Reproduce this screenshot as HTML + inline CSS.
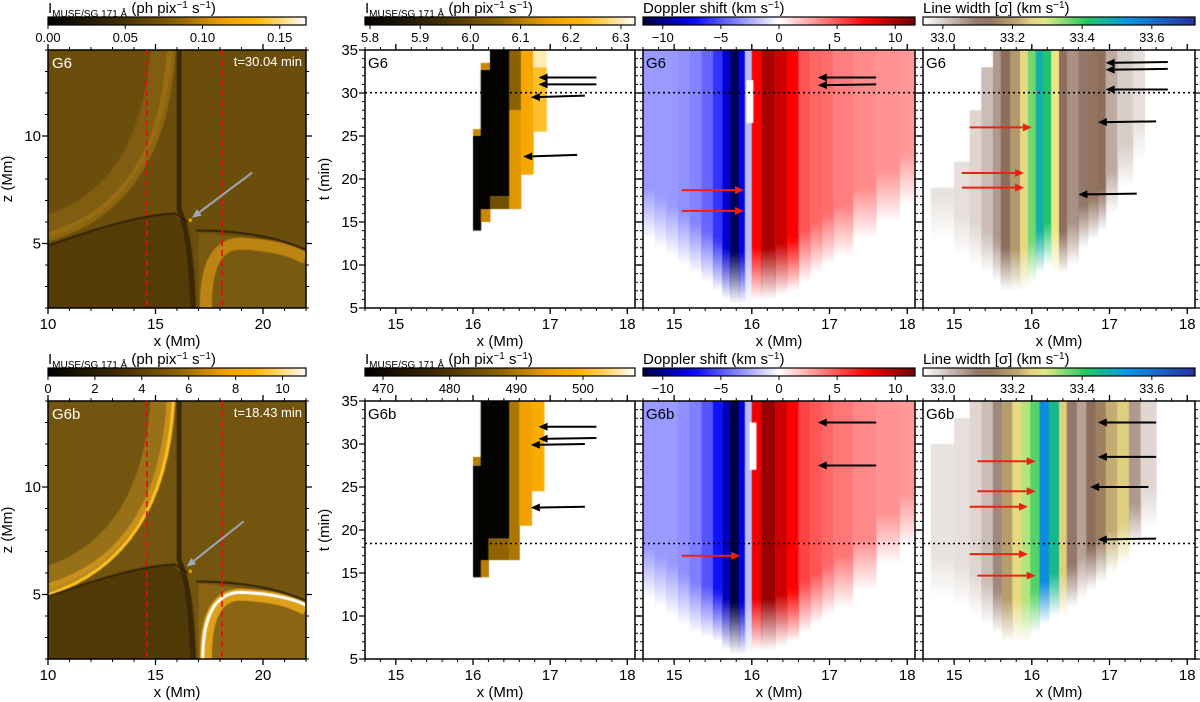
<!DOCTYPE html>
<html><head><meta charset="utf-8">
<style>
html,body{margin:0;padding:0;background:#fff;}
#root{position:relative;width:1200px;height:702px;overflow:hidden;font-family:"Liberation Sans","DejaVu Sans",sans-serif;}
canvas{position:absolute;}
svg{position:absolute;left:0;top:0;}
</style></head>
<body>
<div id="root">
<svg id="ov" width="1200" height="702"></svg>
</div>
<script>
// ---------- data ----------
// Intensity columns: [xStart, xEnd, tStart, tEnd, value]
const intTop = [
 [16.0,16.1,14,25.0,5.80],[16.0,16.1,25.0,25.8,6.12],
 [16.1,16.22,15,16.5,6.12],[16.1,16.22,16.5,32.7,5.80],[16.1,16.22,32.7,33.5,6.12],
 [16.22,16.47,16.5,18,6.02],[16.22,16.47,18,35,5.80],
 [16.47,16.62,16.5,28,6.14],[16.47,16.62,28,35,6.06],
 [16.62,16.78,20.5,35,6.18],
 [16.78,16.95,25.5,33,6.24],[16.78,16.95,33,35,6.30]
];
const intBot = [
 [16.0,16.1,14.5,27.5,468],[16.0,16.1,27.5,28.5,491],
 [16.1,16.2,14.5,16.5,491],[16.1,16.2,16.5,35,468],
 [16.2,16.47,16.5,19,488],[16.2,16.47,19,35,468],
 [16.47,16.6,16.5,35,490],
 [16.6,16.76,20.5,35,495],
 [16.76,16.92,24.5,35,498]
];
// Doppler columns: [xStart, xEnd, value, tStart]
const dopTop = [
 [14.6,14.75,-3,13],[14.75,14.9,-3,12],[14.9,15.05,-3,11],[15.05,15.2,-3.2,10],
 [15.2,15.35,-3.6,9],[15.35,15.5,-4.5,8],[15.5,15.62,-6,7],[15.62,15.72,-8.5,6],
 [15.72,15.84,-11,5.5],[15.84,15.91,-8,5.5],[15.91,16.0,-2,5.5],
 [16.0,16.12,7.5,6],[16.12,16.3,10,6],[16.3,16.45,9,6.5],[16.45,16.6,7.5,7],
 [16.6,16.75,5,8],[16.75,16.9,4.5,9],[16.9,17.05,4.3,10],[17.05,17.3,3.8,11],
 [17.3,17.6,3.4,13],[17.6,17.9,3.2,15],[17.9,18.1,3,17]
];
const dopBot = [
 [14.6,14.75,-3,12],[14.75,14.9,-3,11],[14.9,15.05,-3,10],[15.05,15.2,-3.3,9],
 [15.2,15.35,-3.8,8],[15.35,15.5,-5,7.5],[15.5,15.62,-7,7],[15.62,15.72,-9,6],
 [15.72,15.84,-11.5,5.5],[15.84,15.91,-8,5.5],[15.91,16.0,-2,5.5],
 [16.0,16.12,8,6],[16.12,16.3,10.5,6],[16.3,16.45,9,6.5],[16.45,16.6,7.5,7],
 [16.6,16.75,5.5,8],[16.75,16.9,5,9],[16.9,17.05,4.5,10],[17.05,17.3,4,11],
 [17.3,17.6,3.5,13],[17.6,17.9,3.2,16],[17.9,18.1,3,18]
];
// Doppler white patches: [xStart, xEnd, tStart, tEnd, value]
const dopPatchTop = [[15.93,16.02,26.5,31.5,0]];
const dopPatchBot = [[15.97,16.06,27,32.5,0]];
// Line width columns: [xStart, xEnd, value, tStart, tEnd]
const lwTop = [
 [14.7,15.0,32.975,13,19],[15.0,15.2,32.98,11,22],[15.2,15.35,32.99,10,28],
 [15.35,15.5,33.02,9,33],[15.5,15.6,33.06,8,35],[15.6,15.72,33.12,7,35],
 [15.72,15.85,33.19,7,35],[15.85,15.95,33.26,7,35],[15.95,16.05,33.36,8,35],
 [16.05,16.15,33.47,9,35],[16.15,16.25,33.42,10,35],[16.25,16.35,33.27,9,35],
 [16.35,16.45,33.12,9,35],[16.45,16.6,33.07,10,35],[16.6,16.72,33.1,12,35],
 [16.72,16.85,33.13,13,35],[16.85,16.95,33.12,14,35],[16.95,17.1,33.04,16,35],
 [17.1,17.3,33.0,19,35],[17.3,17.45,32.98,22,35]
];
const lwBot = [
 [14.7,15.0,32.975,12,30],[15.0,15.2,32.98,11,33],[15.2,15.35,32.99,10,35],
 [15.35,15.5,33.02,9,35],[15.5,15.62,33.08,8,35],[15.62,15.75,33.2,7,35],
 [15.75,15.87,33.26,7,35],[15.87,15.98,33.32,7,35],[15.98,16.1,33.38,8,35],
 [16.1,16.22,33.55,9,35],[16.22,16.35,33.45,10,35],[16.35,16.45,33.25,10,35],
 [16.45,16.58,33.1,11,35],[16.58,16.7,33.05,12,35],[16.7,16.82,33.12,13,35],
 [16.82,16.95,33.15,14,35],[16.95,17.1,33.22,15,35],[17.1,17.25,33.25,16,35],
 [17.25,17.4,33.06,18,35],[17.4,17.6,32.99,20,35]
];
// Arrows: [x1,t1,x2,t2]
const arrP2Top = [[17.6,31.8,16.85,31.8],[17.6,31.0,16.85,31.0],[17.45,29.7,16.75,29.5],[17.35,22.8,16.65,22.6]];
const arrP3TopBlack = [[17.6,31.8,16.85,31.8],[17.6,31.0,16.85,30.9]];
const arrP3TopRed = [[15.1,18.7,15.9,18.7],[15.1,16.3,15.9,16.3]];
const arrP4TopBlack = [[17.75,33.6,16.95,33.5],[17.75,32.8,16.95,32.7],[17.75,30.4,16.95,30.4],[17.6,26.7,16.85,26.6],[17.35,18.3,16.6,18.2]];
const arrP4TopRed = [[15.2,26.0,16.0,26.0],[15.1,20.7,15.9,20.7],[15.1,19.0,15.9,19.0]];
const arrP2Bot = [[17.6,32.0,16.85,32.0],[17.6,30.7,16.85,30.6],[17.45,30.0,16.75,29.9],[17.45,22.7,16.75,22.6]];
const arrP3BotBlack = [[17.6,32.5,16.85,32.5],[17.6,27.5,16.85,27.5]];
const arrP3BotRed = [[15.1,17.0,15.85,17.0]];
const arrP4BotBlack = [[17.6,32.5,16.85,32.5],[17.6,28.5,16.85,28.5],[17.5,25.0,16.75,25.0],[17.6,19.0,16.85,18.9]];
const arrP4BotRed = [[15.3,28.0,16.05,28.0],[15.3,24.5,16.05,24.5],[15.2,22.7,15.95,22.7],[15.2,17.2,15.95,17.2],[15.3,14.7,16.05,14.7]];
const tMarkTop = 30.04, tMarkBot = 18.43;
const cbTicks = {
 i1t:[0,0.05,0.10,0.15], i1tL:["0.00","0.05","0.10","0.15"],
 i1b:[0,2,4,6,8,10], i1bL:["0","2","4","6","8","10"],
 i2t:[5.8,5.9,6.0,6.1,6.2,6.3], i2tL:["5.8","5.9","6.0","6.1","6.2","6.3"],
 i2b:[470,480,490,500], i2bL:["470","480","490","500"],
 d:[-10,-5,0,5,10], dL:["\u221210","\u22125","0","5","10"],
 w:[33.0,33.2,33.4,33.6], wL:["33.0","33.2","33.4","33.6"]
};
const xTicks1=[10,15,20], zTicks=[5,10], xTicks2=[15,16,17,18], tTicks=[5,10,15,20,25,30,35];

// ---------- colormaps ----------
function hex(h){return [parseInt(h.slice(1,3),16),parseInt(h.slice(3,5),16),parseInt(h.slice(5,7),16)];}
function cmap(stops,f){f=Math.max(0,Math.min(1,f));for(let i=1;i<stops.length;i++){if(f<=stops[i][0]){const a=stops[i-1],b=stops[i];const u=(f-a[0])/(b[0]-a[0]||1);const ca=hex(a[1]),cb=hex(b[1]);return ca.map((c,k)=>Math.round(c+(cb[k]-c)*u));}}return hex(stops[stops.length-1][1]);}
const CM_I=[[0,'#000000'],[0.25,'#3a2800'],[0.5,'#8a6000'],[0.68,'#f0a000'],[0.8,'#ffb400'],[0.9,'#ffd870'],[1,'#ffffff']];
const CM_D=[[0,'#000040'],[0.18,'#0000ff'],[0.5,'#ffffff'],[0.82,'#ff0000'],[1,'#700000']];
const CM_W=[[0,'#ffffff'],[0.22,'#8a6a5a'],[0.35,'#c0a870'],[0.43,'#f6f088'],[0.6,'#20c860'],[0.75,'#0898e8'],[1,'#2a2ea0']];
function rgb(c,a){return a===undefined?`rgb(${c[0]},${c[1]},${c[2]})`:`rgba(${c[0]},${c[1]},${c[2]},${a})`;}

// ---------- layout ----------
const root=document.getElementById('root');
const svg=document.getElementById('ov');
const NS='http://www.w3.org/2000/svg';
function S(tag,attrs,name,parent){const e=document.createElementNS(NS,tag);for(const k in attrs)e.setAttribute(k,attrs[k]);
 
 
 (parent||svg).appendChild(e);return e;}
function T(x,y,txt,opts,name){const e=S('text',Object.assign({x:x,y:y,'font-size':14,fill:'#000','font-family':'Liberation Sans, DejaVu Sans, sans-serif'},opts||{}),name);e.textContent=txt;return e;}
function mkCanvas(p,name){const c=document.createElement('canvas');c.width=p.w;c.height=p.h;c.style.left=p.x+'px';c.style.top=p.y+'px';
 
 
 root.insertBefore(c,svg);return c.getContext('2d');}

function panel(x,y,w,h,xr,yr){return {x,y,w,h,xr,yr,
 sx:v=>(v-xr[0])/(xr[1]-xr[0])*w, sy:v=>h-(v-yr[0])/(yr[1]-yr[0])*h};}

const rows=[{y:50,cby:17,tag:'G6',tm:tMarkTop,tlab:'t=30.04 min'},{y:401,cby:368,tag:'G6b',tm:tMarkBot,tlab:'t=18.43 min'}];

function drawAxes(p,xt,xminor,yt,yminor,ylabels,xlab,ylab,pre){
 const X=v=>p.x+p.sx(v), Y=v=>p.y+p.sy(v);
 S('rect',{x:p.x,y:p.y,width:p.w,height:p.h,fill:'none',stroke:'#000','stroke-width':1.5},pre+'-frame');
 let d='';
 for(const v of xminor){const px=X(v);d+=`M${px},${p.y+p.h}v3M${px},${p.y}v-3`;}
 for(const v of yminor){const py=Y(v);d+=`M${p.x},${py}h-3M${p.x+p.w},${py}h3`;}
 S('path',{d:d,stroke:'#000','stroke-width':1},pre+'-minor-ticks');
 d='';
 for(const v of xt){const px=X(v);d+=`M${px},${p.y+p.h}v6M${px},${p.y}v-6`;}
 for(const v of yt){const py=Y(v);d+=`M${p.x},${py}h-6M${p.x+p.w},${py}h6`;}
 S('path',{d:d,stroke:'#000','stroke-width':1.3},pre+'-major-ticks');
 for(const v of xt){T(X(v),p.y+p.h+21,String(v),{'text-anchor':'middle','font-size':15},pre+'-x-tick-label');}
 if(ylabels)for(const v of yt){T(p.x-7,Y(v)+5,String(v),{'text-anchor':'end','font-size':15},pre+'-y-tick-label');}
 T(p.x+p.w/2,p.y+p.h+38,xlab,{'text-anchor':'middle','font-size':15},pre+'-x-axis-title');
 if(ylab){const cx=p.x-(ylabels?32:0)-4,cy=p.y+p.h/2;T(cx,cy,ylab,{'text-anchor':'middle','font-size':15,transform:`rotate(-90 ${cx} ${cy})`},pre+'-y-axis-title');}
}
function range(a,b,s){const r=[];for(let v=a;v<=b+1e-9;v+=s)r.push(Math.round(v*1000)/1000);return r;}

function colorbar(x,y,w,stops,lo,hi,ticks,labels,titleParts,pre){
 const g=S('defs',{},pre+'-defs');
 const id=pre+'-grad';
 const lg=S('linearGradient',{id:id,x1:0,x2:1,y1:0,y2:0},pre+'-gradient',g);
 for(let i=0;i<=20;i++){const f=i/20;S('stop',{offset:f,'stop-color':rgb(cmap(stops,f))},pre+'-stop',lg);}
 S('rect',{x:x,y:y,width:w,height:8,fill:`url(#${id})`,stroke:'#000','stroke-width':1.2},pre+'-colorbar');
 let d='';
 ticks.forEach((v,i)=>{const px=x+(v-lo)/(hi-lo)*w;d+=`M${px},${y+8}v4`;T(px,y+25,labels[i],{'text-anchor':'middle','font-size':13},pre+'-tick-label');});
 S('path',{d:d,stroke:'#000','stroke-width':1},pre+'-ticks');
 const t=S('text',{x:x,y:y-4,'font-size':15,'font-family':'Liberation Sans, DejaVu Sans, sans-serif'},pre+'-title');
 titleParts.forEach(tp=>{const s=document.createElementNS(NS,'tspan');s.textContent=tp[0];if(tp[1])s.setAttribute('font-size',tp[1]);if(tp[2])s.setAttribute('dy',tp[2]);
  
  
  t.appendChild(s);});
}
const ititle=[['I'],['MUSE/SG 171 \u00C5',10,4],[' (ph pix',15,-4],['\u22121',10,-5],[' s',15,5],['\u22121',10,-5],[')',15,5]];
const dtitle=[['Doppler shift (km s'],['\u22121',10,-5],[')',15,5]];
const wtitle=[['Line width [\u03C3] (km s'],['\u22121',10,-5],[')',15,5]];

function arrows(p,list,color,pre){
 list.forEach(a=>{const x1=p.x+p.sx(a[0]),y1=p.y+p.sy(a[1]),x2=p.x+p.sx(a[2]),y2=p.y+p.sy(a[3]);
  const ang=Math.atan2(y2-y1,x2-x1),L=9,W=4;
  const bx=x2-L*Math.cos(ang),by=y2-L*Math.sin(ang);
  S('line',{x1:x1,y1:y1,x2:bx,y2:by,stroke:color,'stroke-width':2},pre+'-arrow-shaft');
  S('path',{d:`M${x2},${y2}L${bx-W*Math.sin(ang)},${by+W*Math.cos(ang)}L${bx+W*Math.sin(ang)},${by-W*Math.cos(ang)}Z`,fill:color},pre+'-arrow-head');});
}

// ---------- panel 1 images ----------
function drawMap(ctx,p,bright){
 const X=p.sx,Y=p.sy;
 ctx.fillStyle=bright?'#735510':'#6c4e0c';ctx.fillRect(0,0,p.w,p.h);
 ctx.lineCap='butt';
 ctx.strokeStyle=bright?'rgba(190,140,30,0.5)':'rgba(150,108,22,0.5)';ctx.lineWidth=22;
 ctx.beginPath();ctx.moveTo(X(10),Y(5.8));ctx.quadraticCurveTo(X(15.0),Y(7.4),X(15.3),Y(14.5));ctx.stroke();
 ctx.strokeStyle=bright?'rgba(220,160,30,0.7)':'rgba(170,120,20,0.55)';ctx.lineWidth=9;
 ctx.beginPath();ctx.moveTo(X(10),Y(5.3));ctx.quadraticCurveTo(X(15.5),Y(6.9),X(15.75),Y(14.5));ctx.stroke();
 if(bright){ctx.strokeStyle='#ffc020';ctx.lineWidth=3;ctx.beginPath();ctx.moveTo(X(10),Y(5.0));ctx.quadraticCurveTo(X(15.6),Y(6.8),X(15.85),Y(14.5));ctx.stroke();}
 ctx.fillStyle=bright?'#4f3a08':'#553c07';
 ctx.beginPath();ctx.moveTo(X(10),Y(4.85));ctx.quadraticCurveTo(X(14),Y(6.3),X(15.8),Y(6.35));ctx.lineTo(X(16.4),Y(5.9));ctx.quadraticCurveTo(X(16.8),Y(5.2),X(16.9),Y(2));ctx.lineTo(X(10),Y(2));ctx.closePath();ctx.fill();
 ctx.strokeStyle='rgba(55,38,4,0.9)';ctx.lineWidth=5;
 ctx.beginPath();ctx.moveTo(X(16.1),Y(14.2));ctx.lineTo(X(16.1),Y(6.6));ctx.quadraticCurveTo(X(16.6),Y(5.6),X(16.75),Y(2));ctx.stroke();
 ctx.fillStyle=bright?'#8a6614':'#7a5a10';
 ctx.beginPath();ctx.moveTo(X(17.0),Y(2));ctx.lineTo(X(17.0),Y(5.5));ctx.quadraticCurveTo(X(19),Y(5.4),X(22),Y(4.7));ctx.lineTo(X(22),Y(2));ctx.closePath();ctx.fill();
 ctx.strokeStyle=bright?'rgba(235,170,25,0.85)':'rgba(200,140,20,0.85)';ctx.lineWidth=12;
 ctx.beginPath();ctx.moveTo(X(17.35),Y(2));ctx.quadraticCurveTo(X(17.3),Y(5.0),X(19),Y(5.0));ctx.quadraticCurveTo(X(21),Y(4.9),X(22),Y(4.3));ctx.stroke();
 if(bright){ctx.strokeStyle='#ffffff';ctx.lineWidth=3;ctx.beginPath();ctx.moveTo(X(17.2),Y(2));ctx.quadraticCurveTo(X(17.2),Y(5.1),X(19),Y(5.1));ctx.quadraticCurveTo(X(21),Y(5.0),X(22),Y(4.5));ctx.stroke();}
 ctx.strokeStyle='rgba(45,30,2,0.9)';ctx.lineWidth=2;
 ctx.beginPath();ctx.moveTo(X(10),Y(4.9));ctx.quadraticCurveTo(X(14),Y(6.35),X(15.9),Y(6.4));ctx.lineTo(X(16.5),Y(6.0));ctx.stroke();
 ctx.beginPath();ctx.moveTo(X(16.9),Y(5.6));ctx.quadraticCurveTo(X(20),Y(5.6),X(22),Y(4.7));ctx.stroke();
 ctx.fillStyle='#ffb000';ctx.fillRect(X(16.55),Y(6.15),3,3);
}

rows.forEach((r,ri)=>{
 const top=ri===0, pre=top?'top':'bottom';
 const p1=panel(48,r.y,258,258,[10,22],[2,14]);
 const p2=panel(365,r.y,270,258,[14.6,18.1],[5,35]);
 const p3=panel(643,r.y,272,258,[14.6,18.1],[5,35]);
 const p4=panel(923,r.y,272,258,[14.6,18.1],[5,35]);
 const c1=mkCanvas(p1,pre+'-intensity-map');
 drawMap(c1,p1,!top);
 const c2=mkCanvas(p2,pre+'-intensity-time-distance');
 const ilo=top?5.79:467.3, ihi=top?6.328:507.8;
 (top?intTop:intBot).forEach(s=>{c2.fillStyle=rgb(cmap(CM_I,(s[4]-ilo)/(ihi-ilo)));
  c2.fillRect(p2.sx(s[0]),p2.sy(s[3]),p2.sx(s[1])-p2.sx(s[0])+0.5,p2.sy(s[2])-p2.sy(s[3]));});
 const c3=mkCanvas(p3,pre+'-doppler-time-distance');
 const drawDop=(s)=>{const col=cmap(CM_D,(s[2]+11.7)/23.4);const x0=p3.sx(s[0]),w=p3.sx(s[1])-x0+0.5;
  const yb=p3.sy(s[3]),yf=p3.sy(s[3]+6);
  const g=c3.createLinearGradient(0,yb,0,yf);g.addColorStop(0,rgb(col,0));g.addColorStop(1,rgb(col,1));
  c3.fillStyle=rgb(col);c3.fillRect(x0,0,w,yf+0.5);c3.fillStyle=g;c3.fillRect(x0,yf,w,yb-yf);};
 (top?dopTop:dopBot).forEach(drawDop);
 (top?dopPatchTop:dopPatchBot).forEach(s=>{c3.fillStyle=rgb(cmap(CM_D,(s[4]+11.7)/23.4));c3.fillRect(p3.sx(s[0]),p3.sy(s[3]),p3.sx(s[1])-p3.sx(s[0]),p3.sy(s[2])-p3.sy(s[3]));});
 const c4=mkCanvas(p4,pre+'-linewidth-time-distance');
 (top?lwTop:lwBot).forEach(s=>{const col=cmap(CM_W,(s[2]-32.943)/(33.724-32.943));const x0=p4.sx(s[0]),w=p4.sx(s[1])-x0+0.5;
  const yt=p4.sy(s[4]),yb=p4.sy(s[3]),yf=p4.sy(s[3]+5);
  const g=c4.createLinearGradient(0,yb,0,yf);g.addColorStop(0,rgb(col,0));g.addColorStop(1,rgb(col,1));
  c4.fillStyle=rgb(col);c4.fillRect(x0,yt,w,yf-yt+0.5);c4.fillStyle=g;c4.fillRect(x0,yf,w,yb-yf);});

 drawAxes(p1,xTicks1,range(10,22,1),zTicks,range(2,14,1),true,'x (Mm)','z (Mm)',pre+'-map');
 drawAxes(p2,xTicks2,range(14.6,18.0,0.2),tTicks,range(5,35,1),true,'x (Mm)','t (min)',pre+'-intensity');
 drawAxes(p3,xTicks2,range(14.6,18.0,0.2),tTicks,range(5,35,1),false,'x (Mm)',null,pre+'-doppler');
 drawAxes(p4,xTicks2,range(14.6,18.0,0.2),tTicks,range(5,35,1),false,'x (Mm)',null,pre+'-linewidth');

 [14.6,18.1].forEach(v=>S('line',{x1:p1.x+p1.sx(v),x2:p1.x+p1.sx(v),y1:p1.y,y2:p1.y+p1.h,stroke:'#e01010','stroke-width':1.6,'stroke-dasharray':'6,4'},pre+'-slit-boundary-line'));
 const ga=top?[19.5,8.3,16.7,6.2]:[19.1,8.4,16.45,6.3];
 arrows(p1,[ga],'#a0a8b8',pre+'-map');
 T(p1.x+4,p1.y+18,r.tag,{fill:'#fff','font-size':15},pre+'-map-panel-tag');
 T(p1.x+p1.w-4,p1.y+16,r.tlab,{fill:'#fff','font-size':13,'text-anchor':'end'},pre+'-map-time-label');
 [p2,p3,p4].forEach((p,i)=>{const nm=['intensity','doppler','linewidth'][i];
  T(p.x+3,p.y+18,r.tag,{'font-size':15},pre+'-'+nm+'-panel-tag');
  S('line',{x1:p.x,x2:p.x+p.w,y1:p.y+p.sy(r.tm),y2:p.y+p.sy(r.tm),stroke:'#000','stroke-width':1.6,'stroke-dasharray':'2,3'},pre+'-'+nm+'-time-marker');});
 arrows(p2,top?arrP2Top:arrP2Bot,'#000',pre+'-intensity');
 arrows(p3,top?arrP3TopBlack:arrP3BotBlack,'#000',pre+'-doppler');
 arrows(p3,top?arrP3TopRed:arrP3BotRed,'#f02010',pre+'-doppler');
 arrows(p4,top?arrP4TopBlack:arrP4BotBlack,'#000',pre+'-linewidth');
 arrows(p4,top?arrP4TopRed:arrP4BotRed,'#f02010',pre+'-linewidth');

 if(top){colorbar(48,r.cby,258,CM_I,0,0.167,cbTicks.i1t,cbTicks.i1tL,ititle,pre+'-cb-map');
  colorbar(365,r.cby,270,CM_I,5.79,6.328,cbTicks.i2t,cbTicks.i2tL,ititle,pre+'-cb-intensity');}
 else{colorbar(48,r.cby,258,CM_I,0,11,cbTicks.i1b,cbTicks.i1bL,ititle,pre+'-cb-map');
  colorbar(365,r.cby,270,CM_I,467.3,507.8,cbTicks.i2b,cbTicks.i2bL,ititle,pre+'-cb-intensity');}
 colorbar(643,r.cby,272,CM_D,-11.7,11.7,cbTicks.d,cbTicks.dL,dtitle,pre+'-cb-doppler');
 colorbar(923,r.cby,272,CM_W,32.943,33.724,cbTicks.w,cbTicks.wL,wtitle,pre+'-cb-linewidth');
});
</script>
</body></html>
